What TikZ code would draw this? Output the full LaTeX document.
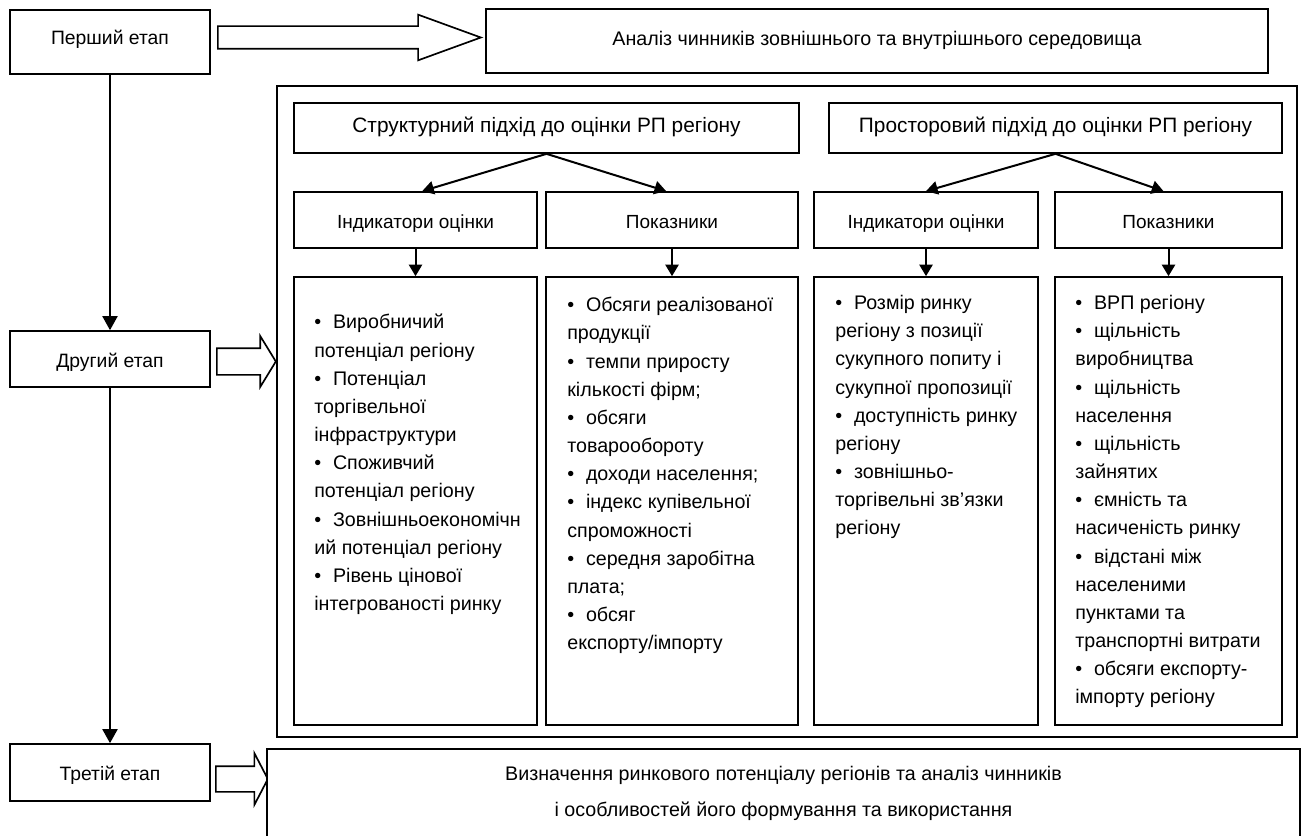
\documentclass[tikz,border=0pt]{standalone}
\usepackage{fontspec}
\setmainfont{Liberation Sans}
\usetikzlibrary{arrows.meta}
\usetikzlibrary{shapes.arrows}
\newcommand\bul{•\hspace{0.6em}}
\tikzset{
	boxstyle/.style={rectangle,draw=black,line width=1pt,fill=white,inner sep=0pt,text height=1.2em,text depth=0.2em,font=\fontsize{11.4}{16.9}\selectfont},
	widestyle/.style={rectangle,draw=black,line width=1pt,fill=white,inner sep=0pt,align=center,font=\fontsize{11.8}{21.6}\selectfont},
	boxsize/.style 2 args={minimum width=#1*0.6pt,minimum height=#2*0.6pt},
	liststyle/.style={inner sep=0pt,anchor=north west,align=left,font=\fontsize{11.8}{16.9}\selectfont},
	bigarrow/.style={single arrow,draw=black,line width=1pt,fill=white,inner xsep=0pt,single arrow head indent=0pt,anchor=tail},
	linkstyle/.style={line width=1.2pt,-{Triangle[length=7pt,width=8pt]}},
	stagelink/.style={line width=1.2pt,-{Triangle[length=8.4pt,width=9pt]}}
}

\begin{document}
\begin{tikzpicture}[x=0.6pt,y=-0.6pt]
	\useasboundingbox (0,0) rectangle (1302,836);
	% stages
	\node[boxstyle,boxsize={200}{64},font=\fontsize{11.6}{16.9}\selectfont,text height=0.5em] (stage1) at (110,42) {Перший етап};
	\node[boxstyle,boxsize={200}{56},font=\fontsize{11.6}{16.9}\selectfont] (stage2) at (110,359) {Другий етап};
	\node[boxstyle,boxsize={200}{57},font=\fontsize{11.6}{16.9}\selectfont] (stage3) at (110,772.5) {Третій етап};
	\draw[stagelink] (stage1.south)--(stage2.north);
	\draw[stagelink] (stage2.south)--(stage3.north);
	% first stage
	\node[boxstyle,boxsize={782}{64},font=\fontsize{11.8}{16.9}\selectfont,text height=0.7em] (analysis) at (877,41) {Аналіз чинників зовнішнього та внутрішнього середовища};
	\node[bigarrow,inner ysep=6.3pt,minimum height=157.8pt,single arrow head extend=6.9pt,single arrow tip angle=40] (arr1) at (217,37.5) {};
	% second stage
	\node[draw=black,line width=1pt,boxsize={1020}{651}] (frame) at (787,411.5) {};
	\node[bigarrow,inner ysep=7.5pt,minimum height=35.4pt,single arrow head extend=7.2pt,single arrow tip angle=117] (arr2) at (216,361.5) {};
	\node[boxstyle,boxsize={505}{50},font=\fontsize{12.5}{16.9}\selectfont,text height=0.75em] (struct) at (546.5,128) {Структурний підхід до оцінки РП регіону};
	\node[boxstyle,boxsize={453}{50},font=\fontsize{12.5}{16.9}\selectfont,text height=0.75em] (spatial) at (1055.5,128) {Просторовий підхід до оцінки РП регіону};
	\node[boxstyle,boxsize={243}{56}] (ind1) at (415.5,220) {Індикатори оцінки};
	\node[boxstyle,boxsize={252}{56}] (par1) at (672,220) {Показники};
	\node[boxstyle,boxsize={224}{56}] (ind2) at (926,220) {Індикатори оцінки};
	\node[boxstyle,boxsize={227}{56}] (par2) at (1168.5,220) {Показники};
	\draw[linkstyle] (struct.south)--([xshift=4pt]ind1.north);
	\draw[linkstyle] (struct.south)--([xshift=-3.5pt]par1.north);
	\draw[linkstyle] (spatial.south)--(ind2.north);
	\draw[linkstyle] (spatial.south)--([xshift=-3pt]par2.north);
	\node[boxstyle,boxsize={243}{448}] (list1) at (415.5,501) {};
	\node[boxstyle,boxsize={252}{448}] (list2) at (672,501) {};
	\node[boxstyle,boxsize={224}{448}] (list3) at (926,501) {};
	\node[boxstyle,boxsize={227}{448}] (list4) at (1168.5,501) {};
	\draw[linkstyle] (ind1.south)--(list1.north);
	\draw[linkstyle] (par1.south)--(list2.north);
	\draw[linkstyle] (ind2.south)--(list3.north);
	\draw[linkstyle] (par2.south)--(list4.north);
	\node[liststyle] (text1) at (314,314) {\bul Виробничий\\потенціал регіону\\\bul Потенціал\\торгівельної\\інфраструктури\\\bul Споживчий\\потенціал регіону\\\bul Зовнішньоекономічн\\ий потенціал регіону\\\bul Рівень цінової\\інтегрованості ринку};
	\node[liststyle] (text2) at (567,297) {\bul Обсяги реалізованої\\продукції\\\bul темпи приросту\\кількості фірм;\\\bul обсяги\\товарообороту\\\bul доходи населення;\\\bul індекс купівельної\\спроможності\\\bul середня заробітна\\плата;\\\bul обсяг\\експорту/імпорту};
	\node[liststyle] (text3) at (835,295) {\bul Розмір ринку\\регіону з позиції\\сукупного попиту і\\сукупної пропозиції\\\bul доступність ринку\\регіону\\\bul зовнішньо-\\торгівельні зв’язки\\регіону};
	\node[liststyle] (text4) at (1075,295) {\bul ВРП регіону\\\bul щільність\\виробництва\\\bul щільність\\населення\\\bul щільність\\зайнятих\\\bul ємність та\\насиченість ринку\\\bul відстані між\\населеними\\пунктами та\\транспортні витрати\\\bul обсяги експорту-\\імпорту регіону};
	% third stage
	\node[bigarrow,inner ysep=7.2pt,minimum height=31.2pt,single arrow head extend=7.8pt,single arrow tip angle=125] (arr3) at (215,779) {};
	\node[widestyle,boxsize={1033}{89}] (result) at (783.5,793.5) {Визначення ринкового потенціалу регіонів та аналіз чинників\\і особливостей його формування та використання};
\end{tikzpicture}
\end{document}
